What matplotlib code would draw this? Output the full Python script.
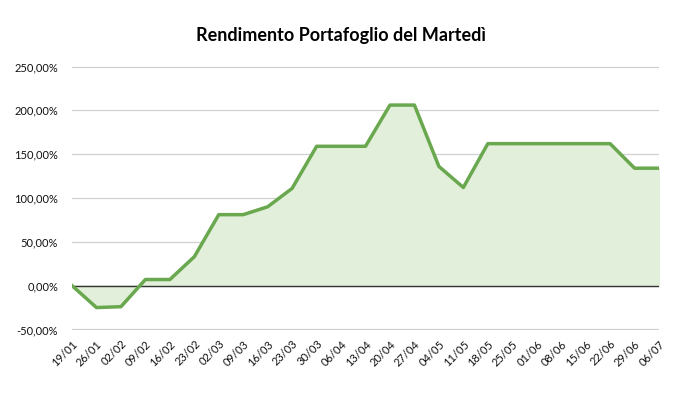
import matplotlib.pyplot as plt
from matplotlib.ticker import FuncFormatter

plt.rcParams['font.family'] = ['Lato', 'DejaVu Sans']

dates = ["19/01", "26/01", "02/02", "09/02", "16/02", "23/02", "02/03", "09/03",
         "16/03", "23/03", "30/03", "06/04", "13/04", "20/04", "27/04", "04/05",
         "11/05", "18/05", "25/05", "01/06", "08/06", "15/06", "22/06", "29/06", "06/07"]
rendimento = [0, -25, -24, 7, 7, 33, 81, 81, 90, 111, 159, 159, 159, 206, 206, 136,
              112, 162, 162, 162, 162, 162, 162, 134, 134]

fig = plt.figure(figsize=(6.82, 4.19), dpi=100)
ax = fig.add_axes([0.1056, 0.2124, 0.8607, 0.6301])

x = list(range(len(dates)))
ax.fill_between(x, rendimento, 0, color="#e2efda", zorder=1)
ax.plot(x, rendimento, color="#6aa84f", lw=2.5, zorder=3)
ax.axhline(0, color="#333333", lw=1, zorder=2)

ax.set_xlim(0, len(dates) - 1)
ax.set_ylim(-50.6, 250.6)
ax.set_yticks(range(-50, 251, 50))
ax.yaxis.set_major_formatter(FuncFormatter(lambda v, p: f"{v:.2f}%".replace(".", ",")))
ax.grid(axis="y", color="#d0d0d0", lw=0.9, zorder=0)
ax.set_axisbelow(True)
ax.set_xticks(x)
ax.set_xticklabels(dates, rotation=45, ha="right", rotation_mode="anchor")
ax.tick_params(axis="both", length=0, labelsize=8, colors="#111111")
ax.tick_params(axis="x", pad=6)
ax.tick_params(axis="y", pad=10)
for s in ax.spines.values():
    s.set_visible(False)

fig.suptitle("Rendimento Portafoglio del Martedì", y=0.935, fontsize=13, fontweight="bold")

fig.savefig("out.png", dpi=100)
